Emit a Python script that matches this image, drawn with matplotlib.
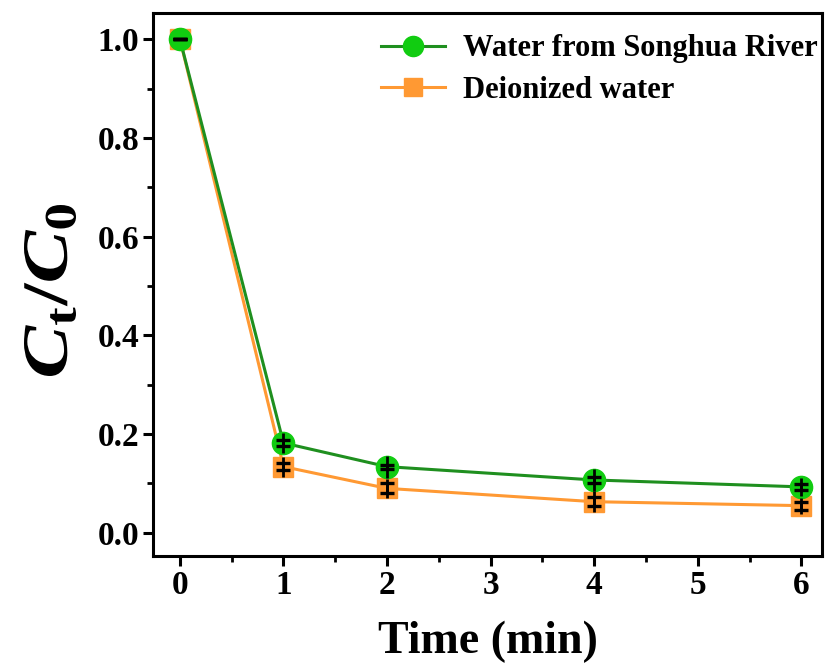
import matplotlib
matplotlib.use("Agg")
import matplotlib.pyplot as plt
from matplotlib.ticker import MultipleLocator
from matplotlib.textpath import TextPath
from matplotlib.patches import PathPatch
from matplotlib.font_manager import FontProperties
from matplotlib.transforms import Affine2D
from matplotlib.lines import Line2D

plt.rcParams["font.family"] = ["Liberation Serif", "DejaVu Serif"]
plt.rcParams["mathtext.fontset"] = "custom"
plt.rcParams["mathtext.it"] = "Liberation Serif:italic:bold"
plt.rcParams["mathtext.rm"] = "Liberation Serif:bold"
plt.rcParams["mathtext.bf"] = "Liberation Serif:bold"

# 降解动力学数据
time_min = [0, 1, 2, 4, 6]
songhua = [1.0, 0.182, 0.134, 0.107, 0.093]
songhua_cap = [0.0, 0.006, 0.004, 0.006, 0.006]
songhua_bar = [0.0, 0.021, 0.022, 0.022, 0.018]
deion = [1.0, 0.134, 0.090, 0.063, 0.055]
deion_cap = [0.0, 0.007, 0.010, 0.009, 0.008]
deion_bar = [0.0, 0.020, 0.019, 0.021, 0.016]

W, H = 827, 670
fig = plt.figure(figsize=(W / 100, H / 100), dpi=100)
ax = fig.add_axes([153 / W, 1 - 556 / H, (822 - 153) / W, (556 - 13) / H])

green_line, green_fill, orange = "#1f8f1f", "#11cc11", "#ff9933"

ax.plot(time_min, deion, color=orange, lw=2.2, marker="s", ms=14.5,
        mfc=orange, mec=orange, zorder=2)
ax.plot(time_min, songhua, color=green_line, lw=2.2, marker="o", ms=16,
        mfc=green_fill, mec=green_fill, zorder=3)
for y, cap, bar, z in [(deion, deion_cap, deion_bar, 4), (songhua, songhua_cap, songhua_bar, 5)]:
    ax.errorbar(time_min, y, yerr=bar, fmt="none", ecolor="black",
                elinewidth=2.0, capsize=0, zorder=z)
    ax.errorbar(time_min, y, yerr=cap, fmt="none", ecolor="black",
                elinewidth=2.0, capsize=5, capthick=2.4, zorder=z)

ax.set_xlim(-0.26, 6.2)
ax.set_ylim(-0.047, 1.053)
ax.xaxis.set_major_locator(MultipleLocator(1))
ax.xaxis.set_minor_locator(MultipleLocator(0.5))
ax.yaxis.set_major_locator(MultipleLocator(0.2))
ax.yaxis.set_minor_locator(MultipleLocator(0.1))
ax.yaxis.set_major_formatter(plt.FormatStrFormatter("%.1f"))

for s in ax.spines.values():
    s.set_linewidth(2.2)
ax.tick_params(which="major", direction="out", length=7, width=2.2, labelsize=24, pad=3)
ax.tick_params(which="minor", direction="out", length=4, width=2.0)
for lab in ax.get_xticklabels() + ax.get_yticklabels():
    lab.set_fontweight("bold")

ax.set_xlabel("Time (min)", fontsize=33, fontweight="bold", labelpad=14)

# y 轴标题：沿文字方向拉长的 Ct/C0
fp = FontProperties(family="Liberation Serif", weight="bold")
tp = TextPath((0, 0), r"$C_\mathrm{t}/C_\mathrm{0}$", size=40, prop=fp)
ext = tp.get_extents()
x0, y0, x1, y1 = 24, 205, 76, 376  # 像素范围（左上为原点）
sx = (y1 - y0) / ext.width
sy = (x1 - x0) / ext.height
tr = (Affine2D().translate(-ext.x0, -ext.y0).scale(sx, sy).rotate_deg(90)
      .translate(x1, H - y1).scale(1 / W, 1 / H))
fig.add_artist(PathPatch(tr.transform_path(tp), color="black", lw=0,
                         transform=fig.transFigure))

handles = [
    Line2D([], [], color=green_line, lw=2.2, marker="o", ms=14.5,
           mfc=green_fill, mec=green_fill),
    Line2D([], [], color=orange, lw=2.2, marker="s", ms=13.5, mfc=orange, mec=orange),
]
ax.legend(handles, ["Water from Songhua River", "Deionized water"], loc="upper right",
          frameon=False, prop={"weight": "bold", "size": 22}, handlelength=2.1,
          borderaxespad=0.0, labelspacing=0.4, handletextpad=0.6,
          bbox_to_anchor=(1.012, 0.983))

fig.savefig("out.png", dpi=100)
